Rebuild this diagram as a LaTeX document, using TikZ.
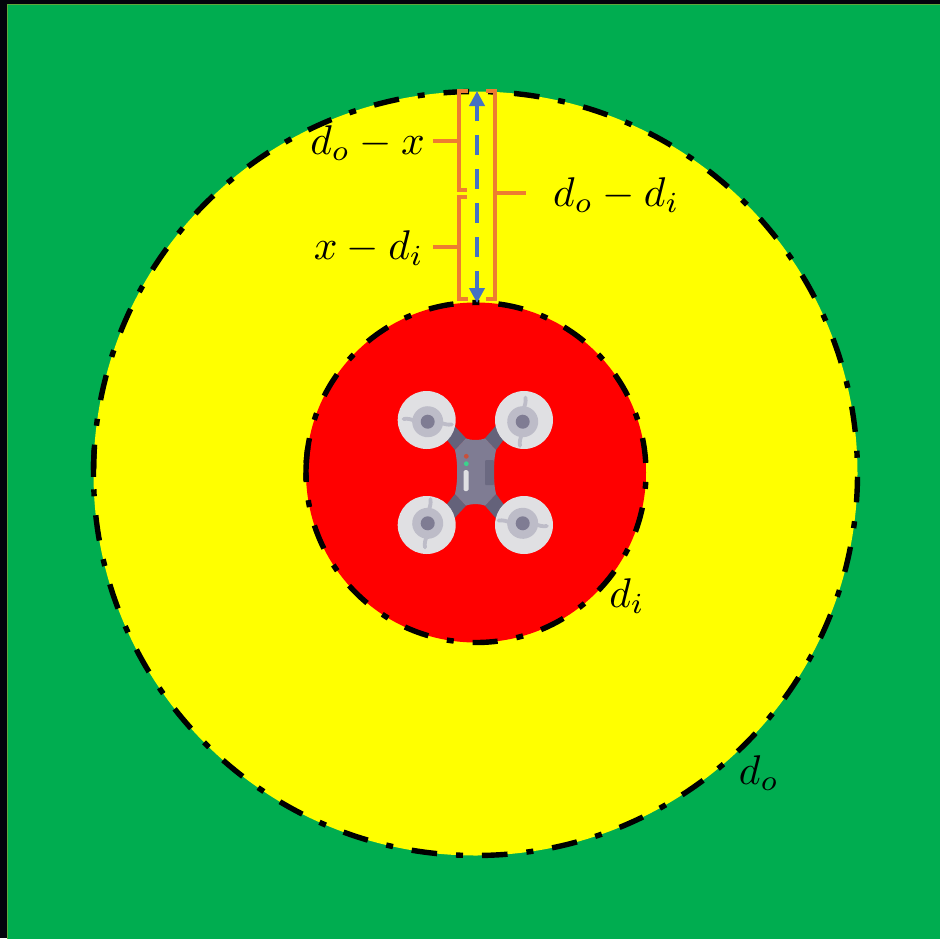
\documentclass[tikz,border=0pt]{standalone}
\usetikzlibrary{arrows.meta}
\definecolor{bgdark}{HTML}{03030C}
\definecolor{fieldgreen}{HTML}{00AD50}
\definecolor{edgegreen}{HTML}{5FA83C}
\definecolor{zoneyellow}{HTML}{FFFF00}
\definecolor{zonered}{HTML}{FF0000}
\definecolor{brk}{HTML}{ED7D31}
\definecolor{arrowblue}{HTML}{4472C4}
\definecolor{rotorlight}{HTML}{E0E0E3}
\definecolor{rotormid}{HTML}{BDBCC8}
\definecolor{bodyc}{HTML}{7F7C93}
\definecolor{armc}{HTML}{64627A}
\definecolor{panelc}{HTML}{6B6981}
\definecolor{ledred}{HTML}{C8503C}
\definecolor{ledgreen}{HTML}{3CD28C}
\tikzset{
  x=1pt,y=-1pt,
  seamdash/.style={line width=5.4pt,draw=black},
  outerdash/.style={seamdash,dash pattern=on 7pt off 19pt on 25.6pt off 19pt},
  innerdash/.style={seamdash,dash pattern=on 7pt off 19pt on 25pt off 19pt},
  bracket/.style={draw=brk,line width=3.8pt},
  lab/.style={inner sep=0pt},
  blade/.style={draw=rotormid,line width=3.8pt,line cap=round},
}
\newcommand{\labmath}[1]{\scalebox{4.15}{$#1$}}
% disc x, disc y, hub x, hub y, blade angle
\newcommand{\droneRotor}[5]{%
  \fill[rotorlight] (#1,#2) circle[radius=29];
  \begin{scope}[shift={(#3,#4)},rotate=#5]
    \fill[rotormid] (0,0) circle[radius=15.5];
    \draw[blade] (-24,-4) .. controls (-15,-5) and (-10,2) .. (0,0) .. controls (10,-2) and (15,5) .. (24,4);
    \fill[bodyc] (0,0) circle[radius=7];
  \end{scope}}
\begin{document}
\begin{tikzpicture}
\useasboundingbox (0,0) rectangle (940,938);
\fill[bgdark] (0,0) rectangle (940,938);
\fill[fieldgreen,draw=edgegreen,line width=1pt] (7.5,4.5) rectangle (942,942);
\coordinate (oc) at (475.5,473.5);
\coordinate (ic) at (476,472.5);
\fill[zoneyellow] (oc) circle[radius=382];
\draw[outerdash,dash phase=22.7pt,shift={(oc)}] (180:382) arc[start angle=180,end angle=540,radius=382];
\draw[seamdash,shift={(oc)}] (179.5:382) arc[start angle=179.5,end angle=183.8,radius=382];
\fill[zonered] (ic) circle[radius=170];
\draw[innerdash,dash phase=16.5pt,shift={(ic)}] (180:170) arc[start angle=180,end angle=540,radius=170];
\draw[seamdash,shift={(ic)}] (176.8:170) arc[start angle=176.8,end angle=188.6,radius=170];
% drone
\fill[armc] (450,421) -- (466,438.3) -- (455,450) -- (440,431) -- cycle;
\fill[armc] (500,421) -- (485,438.3) -- (496,450) -- (510,431) -- cycle;
\fill[armc] (450,523) -- (466,505.7) -- (455,494) -- (440,513) -- cycle;
\fill[armc] (500,523) -- (485,505.7) -- (496,494) -- (510,513) -- cycle;
\fill[bodyc] (455,450) -- (466,438.3) .. controls (470,440.5) and (481,440.5) .. (485,438.3)
  -- (496,450) .. controls (493,463) and (493,481) .. (496,494)
  -- (485,505.7) .. controls (481,503.6) and (470,503.6) .. (466,505.7)
  -- (455,494) .. controls (458,481) and (458,463) .. (455,450) -- cycle;
\fill[panelc,rounded corners=1pt] (485,460) rectangle (494,485);
\fill[rotorlight,rounded corners=1.5pt] (463.5,470) rectangle (468.5,491);
\fill[ledred] (466.3,456.3) circle[radius=2.4];
\fill[ledgreen] (466.3,463.7) circle[radius=2.4];
\droneRotor{426.7}{420}{427.7}{421.7}{3}
\droneRotor{524}{420}{522.7}{421.7}{93}
\droneRotor{426.7}{525}{427.7}{523.3}{-87}
\droneRotor{524}{525}{522.7}{523.3}{3}
% brackets
\coordinate (ua) at (468,91);\coordinate (ub) at (459,91);\coordinate (uc) at (459,190);\coordinate (ud) at (467,190);
\coordinate (la) at (467,197);\coordinate (lb) at (459,197);\coordinate (lc) at (459,299);\coordinate (ld) at (468,299);
\coordinate (ra) at (486,91);\coordinate (rb) at (495,91);\coordinate (rc) at (495,299);\coordinate (rd) at (486,299);
\draw[bracket] (ua) -- (ub) -- (uc) -- (ud);
\draw[bracket] (la) -- (lb) -- (lc) -- (ld);
\draw[bracket] (ra) -- (rb) -- (rc) -- (rd);
\node[lab,anchor=east] (l1) at (425,143) {\labmath{d_o-x}};
\node[lab,anchor=east] (l2) at (424,248) {\labmath{x-d_i}};
\node[lab,anchor=west] (l3) at (553,195) {\labmath{d_o-d_i}};
\node[lab] (l4) at (627,596) {\labmath{d_i}};
\node[lab] (l5) at (759,773) {\labmath{d_o}};
\coordinate (t1) at (459,141);\coordinate (t2) at (459,247);\coordinate (t3) at (495,193);
\draw[bracket] (t1) -- (433,141);
\draw[bracket] (t2) -- (433,247);
\draw[bracket] (t3) -- (526,193);
% arrow
\coordinate (atop) at (477,91);
\coordinate (abot) at (477,303);
\draw[arrowblue,line width=4.8pt,dash pattern=on 20pt off 14pt,dash phase=4pt,{Triangle[length=15pt,width=15pt]}-{Triangle[length=15pt,width=15pt]}] (atop) -- (abot);
\end{tikzpicture}
\end{document}
